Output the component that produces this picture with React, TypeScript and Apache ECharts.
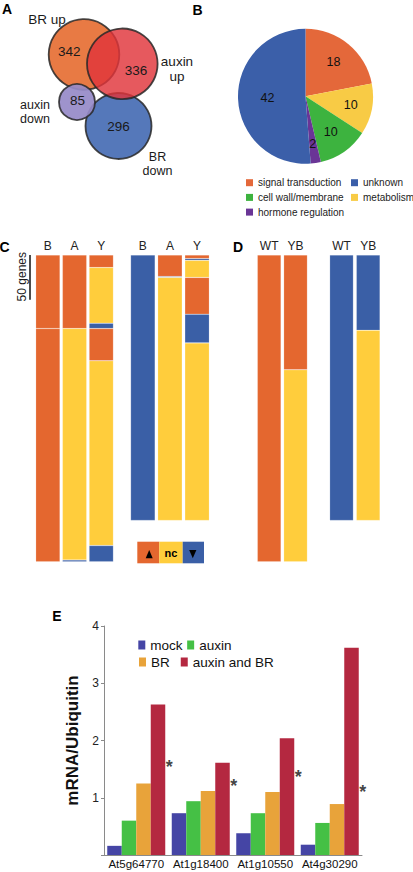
import React, { useEffect, useRef } from "react";
import * as echarts from "echarts";

const FONT = "'Liberation Sans', Arial, Helvetica, sans-serif";

// ---------- Panel A : Venn ----------
const vennNames = ["BR up", "auxin up", "auxin down", "BR down"];
const vennCounts = [342, 336, 85, 296];

// ---------- Panel B : pie ----------
const pieCategories = ["signal transduction", "metabolism", "cell wall/membrane", "hormone regulation", "unknown"];
const pieValues = [18, 10, 10, 2, 42];
const pieLegendCol1 = ["signal transduction", "cell wall/membrane", "hormone regulation"];
const pieLegendCol2 = ["unknown", "metabolism"];

// ---------- Panels C / D : stacked gene columns ----------
type Seg = [string, number];
const cCategories = ["B", "A", "Y"];
const cUpSegments: Seg[][] = [
  [["up", 82], ["up", 260]],
  [["up", 82], ["nc", 258], ["down", 2]],
  [["up", 14], ["nc", 62], ["down", 6], ["up", 36], ["nc", 206], ["down", 18]],
];
const cDownSegments: Seg[][] = [
  [["down", 296]],
  [["up", 24], ["down", 1], ["nc", 271]],
  [["up", 4], ["down", 2], ["nc", 19], ["up", 41], ["down", 32], ["nc", 198]],
];
const dCategories = ["WT", "YB"];
const dUpSegments: Seg[][] = [[["up", 342]], [["up", 128], ["nc", 214]]];
const dDownSegments: Seg[][] = [[["down", 296]], [["down", 84], ["nc", 212]]];
const upTotal = 342;
const downTotal = 296;
const scaleBarGenes = 50;
const changeLegend = ["▲", "nc", "▼"];

// ---------- Panel E : qPCR ----------
const eGenes = ["At5g64770", "At1g18400", "At1g10550", "At4g30290"];
const eTreatments = ["mock", "auxin", "BR", "auxin and BR"];
const eMock = [0.16, 0.73, 0.38, 0.18];
const eAuxin = [0.6, 0.94, 0.73, 0.56];
const eBR = [1.25, 1.12, 1.1, 0.89];
const eAuxinBR = [2.63, 1.61, 2.04, 3.62];
const eStars = [1.63, 1.29, 1.45, 1.19];
const eMax = 4;
const eInterval = 1;

// ---------- styles / layout ----------
const SEG_COLORS: Record<string, string> = { up: "#E4672F", nc: "#FFCD3C", down: "#3A5FA6" };
const PIE_COLORS = ["#E4683A", "#F8CB45", "#3DB33F", "#6A3596", "#3B5FA9"];
const E_COLORS = ["#4545A5", "#45C045", "#E8A33A", "#B42840"];
const PX_PER_GENE = 306.7 / 342;
const STACK_TOP = 255;
const PIE_CENTER = [305.5, 96.3];
const PIE_LABEL_RADIUS = [44, 46, 44, 48, 38];

export default function App() {
  const ref = useRef<HTMLDivElement>(null);

  useEffect(() => {
    const chart = echarts.init(ref.current!, null, { renderer: "svg" });

    const stackGrids = [
      { left: 34.5, width: 80.1, barWidth: 24.3, segs: cUpSegments, cats: cCategories, total: upTotal },
      { left: 129.3, width: 81.3, barWidth: 24.5, segs: cDownSegments, cats: cCategories, total: downTotal },
      { left: 256, width: 52.7, barWidth: 23.7, segs: dUpSegments, cats: dCategories, total: upTotal },
      { left: 328.2, width: 53.3, barWidth: 23.7, segs: dDownSegments, cats: dCategories, total: downTotal },
    ];

    const grids: any[] = [];
    const xAxes: any[] = [];
    const yAxes: any[] = [];
    const series: any[] = [];

    stackGrids.forEach((g, gi) => {
      grids.push({ left: g.left, top: STACK_TOP, width: g.width, height: g.total * PX_PER_GENE });
      xAxes.push({
        gridIndex: gi,
        type: "category",
        data: g.cats,
        position: "top",
        axisLine: { show: false },
        axisTick: { show: false },
        axisLabel: { margin: 3, fontSize: 12, color: "#222", fontFamily: FONT, interval: 0 },
      });
      yAxes.push({ gridIndex: gi, type: "value", inverse: true, min: 0, max: g.total, show: false });
      const layers = Math.max(...g.segs.map((s) => s.length));
      for (let k = 0; k < layers; k++) {
        series.push({
          type: "bar",
          xAxisIndex: gi,
          yAxisIndex: gi,
          stack: "s" + gi,
          barWidth: g.barWidth,
          silent: true,
          itemStyle: { borderColor: "rgba(255,255,255,0.35)", borderWidth: 0.5 },
          data: g.segs.map((bar) =>
            bar[k] ? { value: bar[k][1], itemStyle: { color: SEG_COLORS[bar[k][0]] } } : "-"
          ),
        });
      }
    });

    // Panel E grid
    const eGrid = grids.length;
    grids.push({ left: 104, top: 626, width: 258, height: 229 });
    xAxes.push({
      gridIndex: eGrid,
      type: "category",
      data: eGenes,
      axisLine: { lineStyle: { color: "#8a8a8a", width: 1 } },
      axisTick: { show: false },
      axisLabel: { margin: 3, fontSize: 11.5, color: "#111", fontFamily: FONT, interval: 0 },
    });
    yAxes.push({
      gridIndex: eGrid,
      type: "value",
      min: 0,
      max: eMax,
      interval: eInterval,
      name: "mRNA/Ubiquitin",
      nameLocation: "middle",
      nameGap: 18,
      nameTextStyle: { fontSize: 17, fontWeight: "bold", color: "#111", fontFamily: FONT },
      axisLine: { show: true, lineStyle: { color: "#8a8a8a", width: 1 } },
      axisTick: { show: true, length: 3, lineStyle: { color: "#8a8a8a" } },
      splitLine: { show: false },
      axisLabel: {
        margin: 5,
        fontSize: 12,
        color: "#222",
        fontFamily: FONT,
        formatter: (v: number) => (v === 0 ? "" : String(v)),
      },
    });
    const eData = [eMock, eAuxin, eBR, eAuxinBR];
    eTreatments.forEach((name, i) => {
      series.push({
        type: "bar",
        name,
        xAxisIndex: eGrid,
        yAxisIndex: eGrid,
        barWidth: 14.5,
        barGap: "0%",
        itemStyle: { color: E_COLORS[i] },
        data: eData[i],
      });
    });
    series.push({
      type: "scatter",
      xAxisIndex: eGrid,
      yAxisIndex: eGrid,
      symbolSize: 0,
      silent: true,
      data: eStars.map((v, i) => [i, v]),
      label: {
        show: true,
        position: "inside",
        offset: [33, 5],
        formatter: "*",
        fontSize: 18,
        fontWeight: "bold",
        color: "#111",
        fontFamily: FONT,
      },
    });

    // Pie (panel B)
    const pieTotal = pieValues.reduce((a, b) => a + b, 0);
    const pieMidAngles: number[] = [];
    let acc = 0;
    pieValues.forEach((v) => {
      pieMidAngles.push(((acc + v / 2) / pieTotal) * Math.PI * 2);
      acc += v;
    });
    const pieData = pieCategories.map((n, i) => ({ name: n, value: pieValues[i], itemStyle: { color: PIE_COLORS[i] } }));
    series.push({
      type: "pie",
      center: PIE_CENTER,
      radius: [0, 67.5],
      startAngle: 90,
      clockwise: true,
      silent: true,
      label: {
        show: true,
        position: "inside",
        formatter: "{c}",
        fontSize: 12.5,
        color: "#111",
        fontFamily: FONT,
      },
      labelLine: { show: false },
      labelLayout: (p: any) => {
        const i = p.dataIndex;
        const a = pieMidAngles[i];
        const R = PIE_LABEL_RADIUS[i];
        return {
          x: PIE_CENTER[0] + R * Math.sin(a),
          y: PIE_CENTER[1] - R * Math.cos(a),
          align: "center",
          verticalAlign: "middle",
        };
      },
      data: pieData,
    });

    const pieColorOf = (n: string) => PIE_COLORS[pieCategories.indexOf(n)];
    const pieLegendBase = {
      orient: "vertical",
      top: 176.7,
      padding: 0,
      itemWidth: 7,
      itemHeight: 7,
      itemGap: 2.7,
      icon: "rect",
      selectedMode: false,
      textStyle: { fontSize: 10, lineHeight: 12, color: "#222", fontFamily: FONT },
    };
    const eLegendBase = {
      orient: "horizontal",
      padding: 0,
      itemWidth: 7,
      itemHeight: 9,
      icon: "rect",
      selectedMode: false,
      textStyle: { fontSize: 13.5, lineHeight: 16, color: "#111", fontFamily: FONT },
    };
    const eColorOf = (n: string) => E_COLORS[eTreatments.indexOf(n)];

    const legends = [
      { ...pieLegendBase, left: 246, data: pieLegendCol1.map((n) => ({ name: n, itemStyle: { color: pieColorOf(n) } })) },
      { ...pieLegendBase, left: 351, data: pieLegendCol2.map((n) => ({ name: n, itemStyle: { color: pieColorOf(n) } })) },
      { ...eLegendBase, left: 138.3, top: 637, itemGap: 4.6, data: eTreatments.slice(0, 2).map((n) => ({ name: n, itemStyle: { color: eColorOf(n) } })) },
      { ...eLegendBase, left: 139, top: 654, itemGap: 11, data: eTreatments.slice(2).map((n) => ({ name: n, itemStyle: { color: eColorOf(n) } })) },
    ];

    // Graphic: panel letters, Venn, scale bar, change legend
    const letter = (t: string, x: number, y: number) => ({
      type: "text",
      x,
      y,
      style: { text: t, fontSize: 14, fontWeight: "bold", fill: "#000", fontFamily: FONT, textAlign: "center", textVerticalAlign: "middle" },
    });
    const plain = (t: string, x: number, y: number, size = 13.5, extra: any = {}, lineHeight?: number) => ({
      type: "text",
      x,
      y,
      ...extra,
      style: {
        text: t,
        fontSize: size,
        fill: "#1a1a1a",
        fontFamily: FONT,
        textAlign: "center",
        textVerticalAlign: "middle",
        ...(lineHeight ? { lineHeight } : {}),
      },
    });

    const vennLayout = [
      { cx: 84, cy: 54.5, r: 35.3, fill: "rgba(230,108,48,0.9)", tx: 69.3, ty: 51.7 },
      { cx: 122.3, cy: 63.8, r: 35.3, fill: "rgba(225,52,58,0.82)", tx: 136, ty: 70 },
      { cx: 77, cy: 102, r: 18, fill: "rgba(150,138,200,0.92)", tx: 77.5, ty: 100.7 },
      { cx: 118.5, cy: 126, r: 33, fill: "rgba(70,108,180,0.92)", tx: 118.5, ty: 126.5 },
    ];
    const drawOrder = [3, 0, 2, 1];
    const vennCircles = drawOrder.map((i) => ({
      type: "circle",
      shape: { cx: vennLayout[i].cx, cy: vennLayout[i].cy, r: vennLayout[i].r },
      style: { fill: vennLayout[i].fill, stroke: "rgba(40,40,40,0.85)", lineWidth: 1.8 },
    }));
    const vennCountTexts = vennLayout.map((v, i) => plain(String(vennCounts[i]), v.tx, v.ty, 13.5));
    const vennNameTexts = [
      plain(vennNames[0], 47, 19, 13.5),
      plain(vennNames[1].replace(" ", "\n"), 177, 69, 13.5, {}, 15),
      plain(vennNames[2].replace(" ", "\n"), 35, 111.5, 12.5, {}, 14),
      plain(vennNames[3].replace(" ", "\n"), 157.5, 163.5, 12.5, {}, 14),
    ];

    const scaleY2 = STACK_TOP + scaleBarGenes * PX_PER_GENE;
    const legendCells = [
      { x: 137.3, w: 22, color: SEG_COLORS.up },
      { x: 159.3, w: 23.4, color: SEG_COLORS.nc },
      { x: 182.7, w: 21.3, color: SEG_COLORS.down },
    ];
    const lgTop = 541.7;
    const lgH = 21.6;

    const graphic: any[] = [
      letter("A", 7, 9),
      letter("B", 197.5, 10),
      letter("C", 4.5, 246.7),
      letter("D", 238, 247),
      letter("E", 57, 616),
      ...vennCircles,
      ...vennCountTexts,
      ...vennNameTexts,
      {
        type: "line",
        shape: { x1: 30, y1: STACK_TOP, x2: 30, y2: scaleY2 },
        style: { stroke: "#000", lineWidth: 1.4 },
      },
      plain(scaleBarGenes + " genes", 22, 276.7, 12, { rotation: Math.PI / 2 }),
      ...legendCells.map((c) => ({
        type: "rect",
        shape: { x: c.x, y: lgTop, width: c.w, height: lgH },
        style: { fill: c.color },
      })),
      {
        type: "polygon",
        shape: { points: [[149.2, 550], [145.7, 558.3], [152.7, 558.3]] },
        style: { fill: "#000" },
      },
      {
        type: "text",
        x: 171,
        y: 552.5,
        style: { text: changeLegend[1], fontSize: 11, fontWeight: "bold", fill: "#000", fontFamily: FONT, textAlign: "center", textVerticalAlign: "middle" },
      },
      {
        type: "polygon",
        shape: { points: [[189.2, 550], [196.4, 550], [192.8, 558.3]] },
        style: { fill: "#000" },
      },
    ];

    chart.setOption({
      animation: false,
      backgroundColor: "#fff",
      textStyle: { fontFamily: FONT },
      grid: grids,
      xAxis: xAxes,
      yAxis: yAxes,
      legend: legends,
      series,
      graphic,
    });

    return () => chart.dispose();
  }, []);

  return (
    <div
      ref={ref}
      style={{ position: "absolute", left: 0, top: 0, width: 413, height: 872, background: "#fff" }}
    />
  );
}
